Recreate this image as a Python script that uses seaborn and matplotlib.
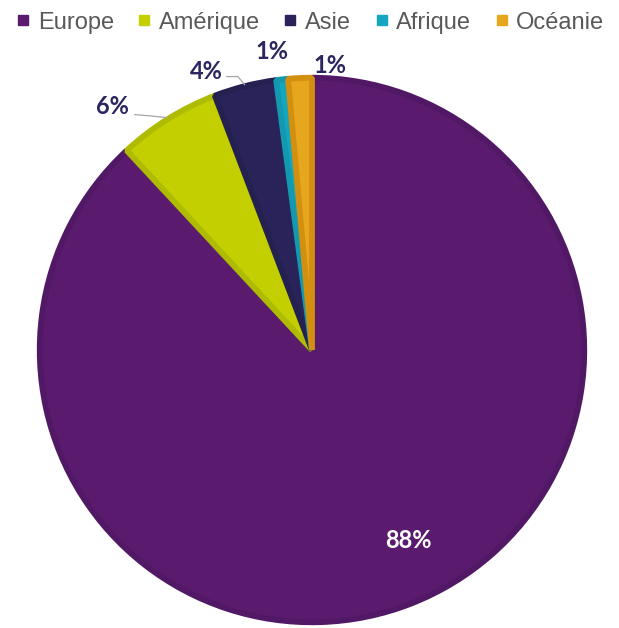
import numpy as np
import matplotlib
matplotlib.use("Agg")
import matplotlib.pyplot as plt
import seaborn as sns
from matplotlib.lines import Line2D

sns.set_theme(style="white")
plt.rcParams['font.family'] = ['Liberation Sans', 'DejaVu Sans']

categories = ["Europe", "Amérique", "Asie", "Afrique", "Océanie"]
values = [88.0, 6.1, 3.7, 0.7, 1.4]
pct_labels = ["88%", "6%", "4%", "1%", "1%"]
colors = ["#5a1b6e", "#c3cf00", "#2a2359", "#15a6bf", "#e6a61e"]
edge_colors = ["#511865", "#aebb00", "#242050", "#1299b0", "#d28f10"]

fig = plt.figure(figsize=(6.19, 6.28), dpi=100)
ax = fig.add_axes([0, 0, 1, 1])

wedges, _ = ax.pie(values, colors=colors, startangle=90, counterclock=False,
                   radius=0.99, wedgeprops=dict(linewidth=4.2))
for w, ec in zip(wedges, edge_colors):
    w.set_edgecolor(ec)
    w.set_joinstyle('bevel')

# map data units: center at (312,350) px, 275 px per unit
cx, cy, r = 312, 350, 275
ax.set_xlim(-cx / r, (619 - cx) / r)
ax.set_ylim(-(628 - cy) / r, cy / r)
ax.set_aspect('auto')
ax.axis('off')

lab_font = dict(fontsize=17, fontweight="bold", family=['Lato', 'DejaVu Sans'],
                ha="center", va="center")
# label placement (angle deg, radius) per wedge
label_pos = [(-63.2, 0.775), (129.3, 1.145), (110.8, 1.085), (97.6, 1.095), (86.3, 1.035)]
for i, (w, lab) in enumerate(zip(wedges, pct_labels)):
    mid = np.deg2rad((w.theta1 + w.theta2) / 2)
    a, rr = label_pos[i]
    tx, ty = rr * np.cos(np.deg2rad(a)), rr * np.sin(np.deg2rad(a))
    if i == 0:
        ax.text(tx, ty, lab, color="white", **lab_font)
        continue
    ax.text(tx, ty, lab, color="#2b2560", **lab_font)
    if i in (1, 2):
        ex, ey = 0.995 * np.cos(mid), 0.995 * np.sin(mid)
        if i == 1:
            sx, sy = tx + 0.08, ty - 0.03
            ax.plot([sx, sx + 0.06, ex], [sy, sy - 0.005, ey], color="#a6a6a6", lw=0.9)
        else:
            sx, sy = tx + 0.075, ty - 0.02
            ax.plot([sx, ex - 0.025, ex], [sy, sy, ey], color="#a6a6a6", lw=0.9)

handles = [Line2D([0], [0], marker='s', linestyle='none', markersize=6.6,
                  markerfacecolor=c, markeredgecolor=c) for c in colors]
leg = fig.legend(handles, categories, loc='upper center', bbox_to_anchor=(0.502, 1.004),
                 ncol=5, frameon=False, fontsize=17, handlelength=0.5,
                 handletextpad=0.37, columnspacing=1.04, borderaxespad=0.2)
for t in leg.get_texts():
    t.set_color("#595959")

fig.savefig("out.png", dpi=100, facecolor="white")
